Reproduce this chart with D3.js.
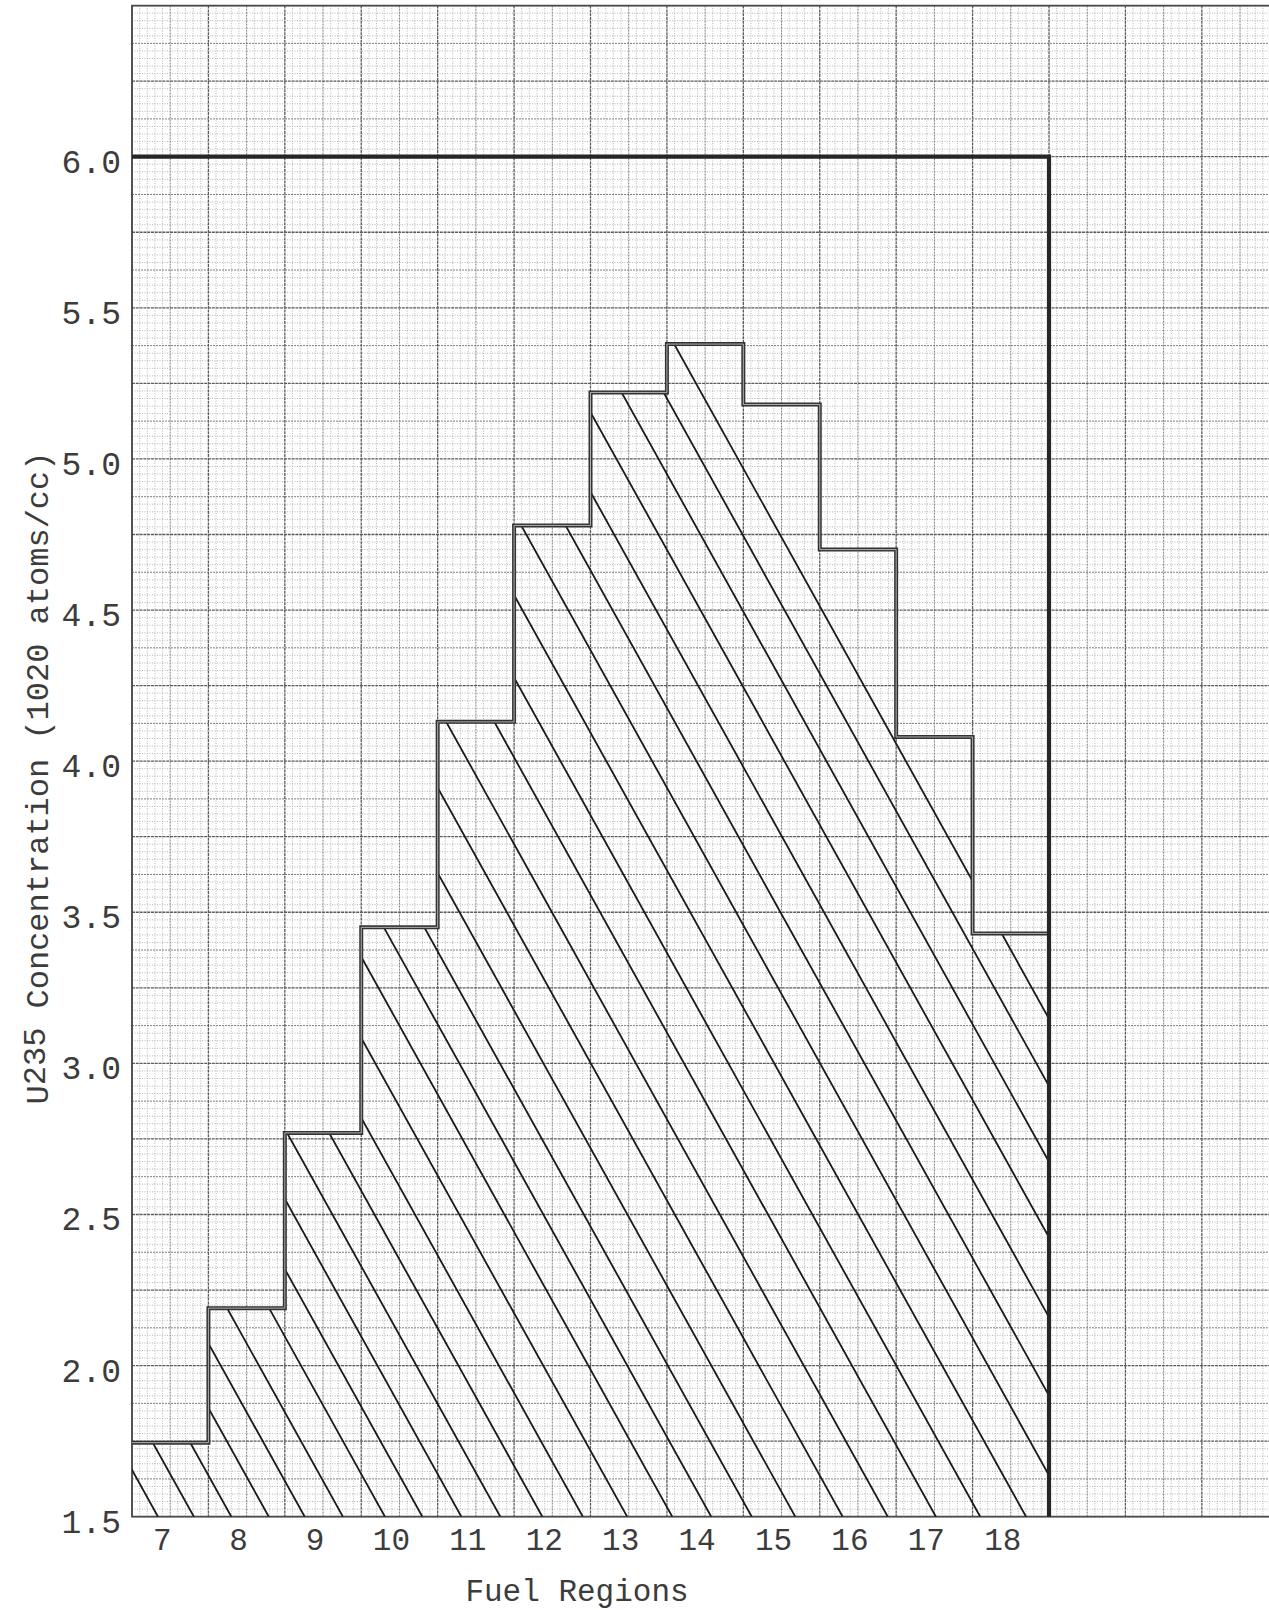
<!DOCTYPE html>
<html><head><meta charset="utf-8">
<script src="https://cdn.jsdelivr.net/npm/d3@7"></script>
<style>html,body{margin:0;padding:0;background:#fff;} svg{display:block}</style>
</head><body><svg id="c" width="1269" height="1610"></svg>
<script>
// ---- data ----
const regions = [7, 8, 9, 10, 11, 12, 13, 14, 15, 16, 17, 18];
const concentration = [1.745, 2.19, 2.77, 3.45, 4.13, 4.78, 5.22, 5.38, 5.18, 4.70, 4.08, 3.43];
const limitValue = 6.0;
const yTickValues = [1.5, 2.0, 2.5, 3.0, 3.5, 4.0, 4.5, 5.0, 5.5, 6.0];
const yTickLabels = ["1.5", "2.0", "2.5", "3.0", "3.5", "4.0", "4.5", "5.0", "5.5", "6.0"];
const xTickLabels = ["7", "8", "9", "10", "11", "12", "13", "14", "15", "16", "17", "18"];
// where each hand-drawn hatch stroke meets the 1.5 baseline (region units)
const hatchIntercepts = [6.84, 7.31, 7.80, 8.29, 8.76, 9.26, 9.81, 10.30, 10.81, 11.32, 11.87, 12.40,
  12.98, 13.57, 14.08, 14.61, 15.18, 15.80, 16.39, 17.02, 17.60, 18.20, 18.80, 19.38, 19.95,
  20.53, 21.08, 21.63, 22.12];
const xTitle = "Fuel Regions";

// ---- scales ----
const svg = d3.select("#c");
const x = d3.scaleLinear().domain([6.5, 18.5]).range([132, 1049]);
const y = d3.scaleLinear().domain([1.5, 6.5]).range([1516.7, 5.6]);
const xMaxPaper = x.invert(1269);

// ---- graph paper ----
const paper = svg.append("g");
const nx = Math.floor((xMaxPaper - 6.5) / 0.1 + 1e-6);
const vx = d3.range(0, nx + 1).map(k => ({k, v: 6.5 + k * 0.1}));
const ny = Math.round((6.5 - 1.5) / 0.025);
const vy = d3.range(0, ny + 1).map(k => ({k, v: 1.5 + k * 0.025}));
function styleFor(sel, kind) {
  if (kind === 0) sel.attr("stroke", "#a9a9a9").attr("stroke-width", 0.85).attr("stroke-dasharray", "1,1.5");
  else if (kind === 1) sel.attr("stroke", "#7f7f7f").attr("stroke-width", 1).attr("stroke-dasharray", "2,1");
  else sel.attr("stroke", "#5c5c5c").attr("stroke-width", 1.3).attr("stroke-dasharray", "3,0.8");
}
[0, 1, 2].forEach(kind => {
  const selX = vx.filter(d => (d.k % 10 === 0 ? 2 : d.k % 5 === 0 ? 1 : 0) === kind);
  const selY = vy.filter(d => (d.k % 10 === 0 ? 2 : d.k % 5 === 0 ? 1 : 0) === kind);
  const g = paper.append("g");
  g.selectAll("line.v").data(selX).join("line")
    .attr("x1", d => x(d.v)).attr("x2", d => x(d.v))
    .attr("y1", y(6.5)).attr("y2", y(1.5))
    .call(s => styleFor(s, kind));
  g.selectAll("line.h").data(selY).join("line")
    .attr("x1", x(6.5)).attr("x2", 1269)
    .attr("y1", d => y(d.v)).attr("y2", d => y(d.v))
    .call(s => styleFor(s, kind));
});
// paper borders
paper.append("path")
  .attr("d", `M1269,${y(6.5)}H${x(6.5)}V${y(1.5)}H1269`)
  .attr("fill", "none").attr("stroke", "#4a4a4a").attr("stroke-width", 1.8);

// ---- step profile ----
const stepData = regions.map((r, i) => [r - 0.5, concentration[i]]);
stepData.push([regions[regions.length - 1] + 0.5, concentration[concentration.length - 1]]);

const area = d3.area().curve(d3.curveStepAfter)
  .x(d => x(d[0])).y0(y(1.5)).y1(d => y(d[1]));
svg.append("clipPath").attr("id", "under")
  .append("path").attr("d", area(stepData));

const slope = 1.8; // px drop per px across, as drawn
const hatch = svg.append("g").attr("clip-path", "url(#under)");
hatch.selectAll("line").data(hatchIntercepts).join("line")
  .attr("x1", d => x(d) - (y(1.5) - y(6.5)) / slope)
  .attr("y1", y(6.5))
  .attr("x2", d => x(d))
  .attr("y2", y(1.5))
  .attr("stroke", "#1a1a1a").attr("stroke-width", 1.8);

const line = d3.line().curve(d3.curveStepAfter).x(d => x(d[0])).y(d => y(d[1]));
svg.append("path").attr("d", line(stepData))
  .attr("fill", "none").attr("stroke", "#333").attr("stroke-width", 4);
svg.append("path").attr("d", line(stepData))
  .attr("fill", "none").attr("stroke", "#bdbdbd").attr("stroke-width", 0.9);

// ---- 6.0 limit line ----
svg.append("path")
  .attr("d", `M${x(6.5)},${y(limitValue)}H${x(18.5)}V${y(1.5)}`)
  .attr("fill", "none").attr("stroke", "#262626").attr("stroke-width", 4.2);

// ---- text ----
const font = "'Liberation Mono', 'Courier New', monospace";
svg.append("g").selectAll("text").data(yTickValues).join("text")
  .attr("x", 121).attr("y", d => y(d) + 16)
  .attr("text-anchor", "end")
  .attr("font-family", font).attr("font-size", 33).attr("fill", "#3c3c3c")
  .text((d, i) => yTickLabels[i]);

svg.append("g").selectAll("text").data(regions).join("text")
  .attr("x", d => x(d) - 8).attr("y", 1550)
  .attr("text-anchor", "middle")
  .attr("font-family", font).attr("font-size", 31).attr("fill", "#3c3c3c")
  .text((d, i) => xTickLabels[i]);

svg.append("text")
  .attr("x", 577).attr("y", 1601).attr("text-anchor", "middle")
  .attr("font-family", font).attr("font-size", 31).attr("fill", "#3c3c3c")
  .text(xTitle);

const yt = svg.append("text")
  .attr("transform", "translate(48,778) rotate(-90)")
  .attr("text-anchor", "middle")
  .attr("font-family", font).attr("font-size", 32).attr("fill", "#3c3c3c");
yt.append("tspan").text("U");
yt.append("tspan").attr("dy", -3).text("235");
yt.append("tspan").attr("dy", 3).text(" Concentration (1020 atoms/cc)");
</script></body></html>
